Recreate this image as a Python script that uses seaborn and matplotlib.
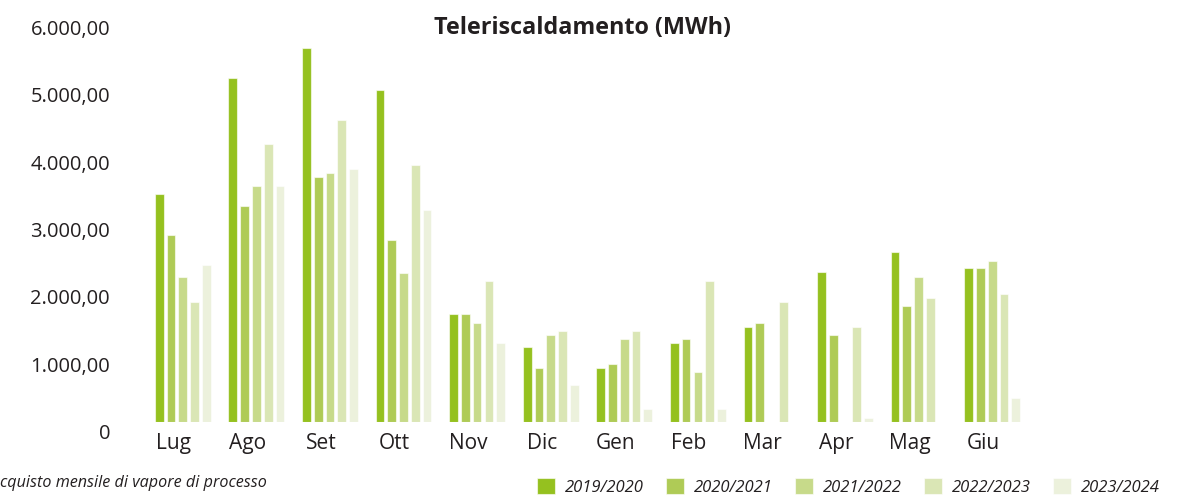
import numpy as np
import pandas as pd
import matplotlib
matplotlib.use("Agg")
import matplotlib.pyplot as plt
import matplotlib.transforms as mtransforms
from matplotlib.ticker import FuncFormatter
import seaborn as sns

# data (MWh)
months = ["Lug", "Ago", "Set", "Ott", "Nov", "Dic", "Gen", "Feb", "Mar", "Apr", "Mag", "Giu"]
seasons = ["2019/2020", "2020/2021", "2021/2022", "2022/2023", "2023/2024"]
v_2019_2020 = [3380, 5100, 5540, 4920, 1590, 1100, 795, 1160, 1405, 2215, 2515, 2275]
v_2020_2021 = [2765, 3195, 3625, 2700, 1590, 795, 850, 1225, 1470, 1290, 1720, 2275]
v_2021_2022 = [2145, 3500, 3685, 2210, 1470, 1285, 1225, 730, np.nan, np.nan, 2150, 2390]
v_2022_2023 = [1775, 4115, 4485, 3810, 2085, 1345, 1345, 2085, 1780, 1405, 1840, 1900]
v_2023_2024 = [2330, 3500, 3745, 3135, 1160, 545, 180, 180, np.nan, 55, np.nan, 355]
colors = ["#95C11F", "#AFCB56", "#C7DA8A", "#DAE6B5", "#ECF1DC"]

series = [v_2019_2020, v_2020_2021, v_2021_2022, v_2022_2023, v_2023_2024]
df = pd.DataFrame({
    "Mese": months * len(seasons),
    "Stagione": np.repeat(seasons, len(months)),
    "MWh": np.concatenate(series),
}).dropna()

sns.set_theme(style="white")
plt.rcParams["font.family"] = ["Open Sans", "DejaVu Sans"]
txt = "#231F20"

fig = plt.figure(figsize=(11.82, 4.95), dpi=100)
ax = fig.add_axes([146 / 1182, 73.5 / 495, 883 / 1182, 404 / 495])

sns.barplot(data=df, x="Mese", y="MWh", hue="Stagione", order=months,
            hue_order=seasons, palette=colors, saturation=1, errorbar=None, gap=0.26,
            edgecolor=(1, 1, 1, 0.6), linewidth=0.8, ax=ax)

ax.set_xlim(-0.5, 11.5)
ax.set_ylim(0, 6000)
ax.set_yticks(range(0, 6001, 1000))
ax.yaxis.set_major_formatter(FuncFormatter(
    lambda v, p: "0" if v == 0 else f"{v:,.2f}".replace(",", "X").replace(".", ",").replace("X", ".")))
ax.set_xlabel("")
ax.set_ylabel("")
sns.despine(ax=ax, left=True, bottom=True)
ax.tick_params(axis="y", length=0, pad=36 * 0.72, labelsize=14.5, labelcolor=txt)
ax.tick_params(axis="x", length=0, pad=8, labelsize=15, labelcolor=txt)

# labels in the original sit a bit off their positions
ydown = mtransforms.ScaledTranslation(0, -10 / 100, fig.dpi_scale_trans)
for lbl in ax.get_yticklabels():
    lbl.set_transform(lbl.get_transform() + ydown)
xleft = mtransforms.ScaledTranslation(-9 / 100, 0, fig.dpi_scale_trans)
for lbl in ax.get_xticklabels():
    lbl.set_transform(lbl.get_transform() + xleft)

fig.text(582 / 1182, 1 - 28 / 495, "Teleriscaldamento (MWh)", ha="center", va="center",
         fontsize=16.8, fontweight="bold", color=txt)
fig.text(0, 1 - 483 / 495, "cquisto mensile di vapore di processo", ha="left", va="center",
         fontsize=11.6, style="italic", color=txt)

sns.move_legend(ax, loc="center left", bbox_to_anchor=(537 / 1182, 1 - 487 / 495),
                bbox_transform=fig.transFigure, ncol=5, frameon=False, title=None,
                fontsize=12, handlelength=1.1, handleheight=1.1, handletextpad=0.55,
                columnspacing=1.36, borderpad=0, borderaxespad=0)
for t in ax.get_legend().get_texts():
    t.set_fontstyle("italic")
    t.set_color(txt)

fig.savefig("out.png", dpi=100)
